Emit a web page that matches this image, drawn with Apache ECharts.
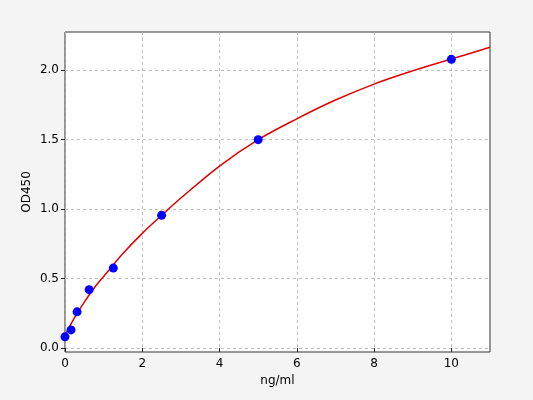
<!DOCTYPE html>
<html>
<head>
<meta charset="utf-8">
<script src="https://cdn.jsdelivr.net/npm/echarts@6/dist/echarts.min.js"></script>
<style>
  html, body { margin: 0; padding: 0; background: #f4f4f4; }
  #chart { width: 533px; height: 400px; }
</style>
</head>
<body>
<div id="chart"></div>
<script>
// standard points (concentration ng/ml -> OD450)
var concentrations = [0, 0.156, 0.3125, 0.625, 1.25, 2.5, 5, 10];
var odValues = [0.08, 0.13, 0.26, 0.42, 0.575, 0.955, 1.50, 2.078];

// fitted curve
var curveX = [0, 0.25, 0.5, 0.75, 1, 1.5, 2, 2.5, 3, 4, 5, 6, 7, 8, 9, 10, 11];
var curveY = [0.09, 0.22, 0.33, 0.43, 0.515, 0.68, 0.825, 0.955, 1.08, 1.31, 1.50, 1.65, 1.785, 1.90, 1.995, 2.08, 2.165];

var xTicks = [0, 2, 4, 6, 8, 10];
var yTicks = [0, 0.5, 1.0, 1.5, 2.0];

var myChart = echarts.init(document.getElementById('chart'));

var pts = [];
for (var i = 0; i < concentrations.length; i++) {
    pts.push([concentrations[i], odValues[i]]);
}
var curve = [];
for (var j = 0; j < curveX.length; j++) {
    curve.push([curveX[j], curveY[j]]);
}

var font = 'DejaVu Sans';

var option = {
    backgroundColor: '#f4f4f4',
    animation: false,
    grid: {
        left: 65,
        right: 43,
        top: 32,
        bottom: 48,
        show: true,
        backgroundColor: '#ffffff',
        borderColor: '#333',
        borderWidth: 1
    },
    xAxis: {
        type: 'value',
        min: 0,
        max: 11,
        name: 'ng/ml',
        nameLocation: 'middle',
        nameGap: 23,
        nameMoveOverlap: false,
        nameTextStyle: { fontFamily: font, fontSize: 12, color: '#000' },
        axisLine: { show: false },
        axisTick: { show: true, length: 4, customValues: xTicks, lineStyle: { color: '#222' } },
        axisLabel: {
            fontFamily: font, fontSize: 12, color: '#000', margin: 6,
            customValues: xTicks
        },
        splitLine: { show: true, lineStyle: { color: '#b0b0b0', type: [3, 3], width: 0.8 } }
    },
    yAxis: {
        type: 'value',
        min: -0.029,
        max: 2.275,
        name: 'OD450',
        nameLocation: 'middle',
        nameGap: 32,
        nameMoveOverlap: false,
        nameTextStyle: { fontFamily: font, fontSize: 12, color: '#000' },
        axisLine: { show: false },
        axisTick: { show: true, length: 4, customValues: yTicks, lineStyle: { color: '#222' } },
        axisLabel: {
            fontFamily: font, fontSize: 12, color: '#000', margin: 6,
            customValues: yTicks,
            formatter: function (v) { return v.toFixed(1); }
        },
        splitLine: { show: true, lineStyle: { color: '#b0b0b0', type: [3, 3], width: 0.8 } }
    },
    series: [
        {
            name: 'fit',
            type: 'line',
            data: curve,
            smooth: 0.35,
            showSymbol: false,
            lineStyle: { color: '#e00000', width: 1.5 },
            z: 2
        },
        {
            name: 'std',
            type: 'scatter',
            data: pts,
            symbolSize: 9,
            itemStyle: { color: '#0000ff', opacity: 1 },
            z: 3
        }
    ]
};

myChart.setOption(option);
</script>
</body>
</html>
